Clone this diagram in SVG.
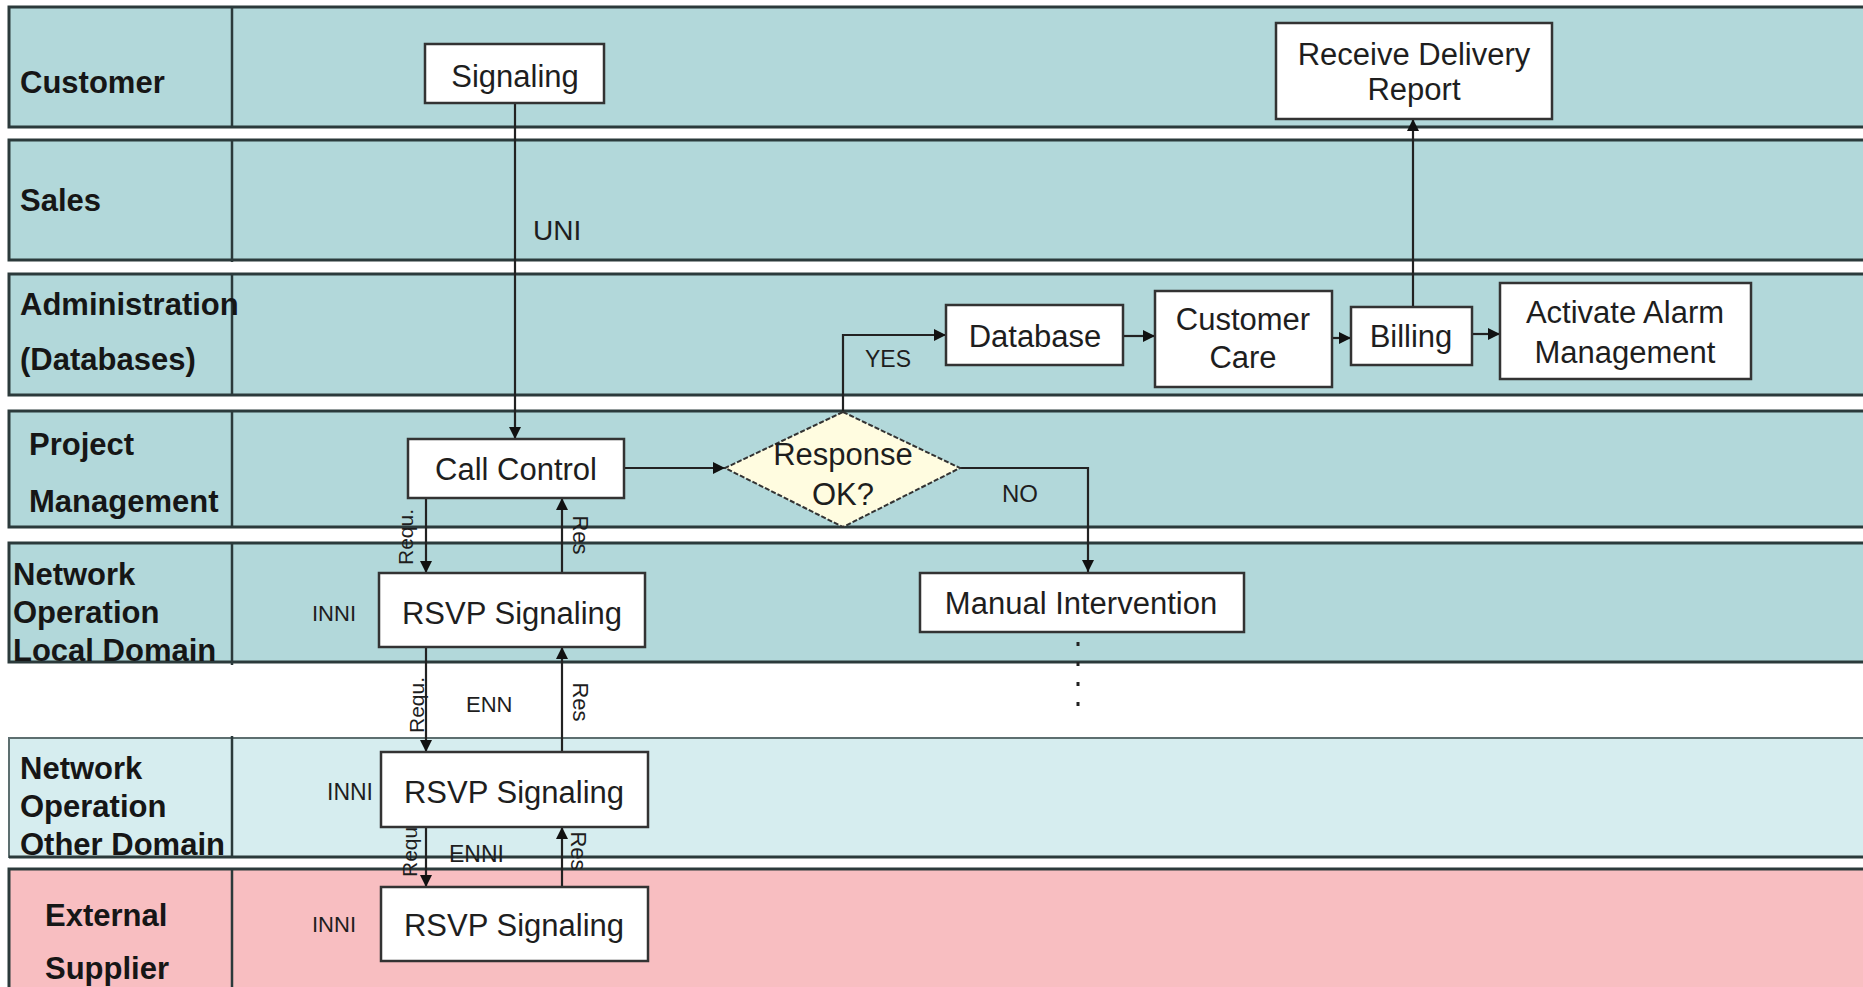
<svg xmlns="http://www.w3.org/2000/svg" width="1863" height="987" viewBox="0 0 1863 987">
<style>
.lanebg{stroke:#2b3a3b;stroke-width:3}
.teal{fill:#B2D8DA}
.light{fill:#D6EDEF}
.pink{fill:#F8BEC1}
.div{stroke:#2b3a3b;stroke-width:2.5}
.lbl{font-family:"Liberation Sans",Arial,sans-serif;font-weight:bold;font-size:31px;fill:#161616}
.box{fill:#ffffff;stroke:#333;stroke-width:2.5}
.nt{font-family:"Liberation Sans",Arial,sans-serif;font-size:31px;fill:#1e1e1e;text-anchor:middle}
.sm{font-family:"Liberation Sans",Arial,sans-serif;fill:#1e1e1e}
.ln{fill:none;stroke:#222;stroke-width:2.2}
</style>
<defs>
<marker id="ah" viewBox="0 0 10 10" refX="10" refY="5" markerWidth="12" markerHeight="12" markerUnits="userSpaceOnUse" orient="auto">
<path d="M0,0 L10,5 L0,10 z" fill="#111"/>
</marker>
</defs>
<rect x="0" y="0" width="1863" height="987" fill="#ffffff"/>
<g id="lanes">
<g id="lane-customer">
<rect class="lanebg teal" x="9" y="7" width="1870" height="120"/>
<line class="div" x1="232" y1="7" x2="232" y2="127"/>
<text class="lbl" x="20" y="93">Customer</text>
</g>
<g id="lane-sales">
<rect class="lanebg teal" x="9" y="140" width="1870" height="120"/>
<line class="div" x1="232" y1="140" x2="232" y2="262"/>
<text class="lbl" x="20" y="211">Sales</text>
</g>
<g id="lane-admin">
<rect class="lanebg teal" x="9" y="274" width="1870" height="121"/>
<line class="div" x1="232" y1="274" x2="232" y2="395"/>
<text class="lbl" x="20" y="315">Administration</text>
<text class="lbl" x="20" y="370">(Databases)</text>
</g>
<g id="lane-project">
<rect class="lanebg teal" x="9" y="411" width="1870" height="116"/>
<line class="div" x1="232" y1="411" x2="232" y2="527"/>
<text class="lbl" x="29" y="455">Project</text>
<text class="lbl" x="29" y="512">Management</text>
</g>
<g id="lane-local">
<rect class="lanebg teal" x="9" y="543" width="1870" height="119"/>
<line class="div" x1="232" y1="543" x2="232" y2="665"/>
<text class="lbl" x="13" y="585">Network</text>
<text class="lbl" x="13" y="623">Operation</text>
<text class="lbl" x="13" y="661">Local Domain</text>
</g>
<g id="lane-other">
<rect class="light" x="9" y="738" width="1870" height="119" stroke="#5d6f70" stroke-width="2"/>
<line x1="9" y1="857" x2="1870" y2="857" stroke="#2b3a3b" stroke-width="3"/>
<line class="div" x1="232" y1="736" x2="232" y2="857"/>
<text class="lbl" x="20" y="779">Network</text>
<text class="lbl" x="20" y="817">Operation</text>
<text class="lbl" x="20" y="855">Other Domain</text>
</g>
<g id="lane-external">
<rect class="lanebg pink" x="9" y="869" width="1870" height="130"/>
<line class="div" x1="232" y1="869" x2="232" y2="990"/>
<text class="lbl" x="45" y="926">External</text>
<text class="lbl" x="45" y="979">Supplier</text>
</g>
</g>

<g id="connectors">
<line class="ln" x1="515" y1="103" x2="515" y2="439" marker-end="url(#ah)"/>
<line class="ln" x1="624" y1="468" x2="725" y2="468" marker-end="url(#ah)"/>
<polyline class="ln" points="843,411 843,335 946,335" marker-end="url(#ah)"/>
<line class="ln" x1="1123" y1="336" x2="1155" y2="336" marker-end="url(#ah)"/>
<line class="ln" x1="1332" y1="338" x2="1351" y2="338" marker-end="url(#ah)"/>
<line class="ln" x1="1472" y1="334" x2="1500" y2="334" marker-end="url(#ah)"/>
<line class="ln" x1="1413" y1="307" x2="1413" y2="119" marker-end="url(#ah)"/>
<polyline class="ln" points="960,468 1088,468 1088,572" marker-end="url(#ah)"/>
<line x1="1078" y1="642" x2="1078" y2="712" stroke="#222" stroke-width="3" stroke-dasharray="4 16"/>
<line class="ln" x1="426" y1="498" x2="426" y2="573" marker-end="url(#ah)"/>
<line class="ln" x1="562" y1="573" x2="562" y2="498" marker-end="url(#ah)"/>
<line class="ln" x1="426" y1="647" x2="426" y2="752" marker-end="url(#ah)"/>
<line class="ln" x1="562" y1="752" x2="562" y2="647" marker-end="url(#ah)"/>
<line class="ln" x1="426" y1="827" x2="426" y2="887" marker-end="url(#ah)"/>
<line class="ln" x1="562" y1="887" x2="562" y2="827" marker-end="url(#ah)"/>
<text class="sm" x="533" y="240" font-size="28">UNI</text>
<text class="sm" x="865" y="367" font-size="23">YES</text>
<text class="sm" x="1002" y="502" font-size="24">NO</text>
<text class="sm" x="312" y="621" font-size="22" textLength="44" lengthAdjust="spacingAndGlyphs">INNI</text>
<text class="sm" x="466" y="712" font-size="22">ENN</text>
<text class="sm" x="327" y="800" font-size="23">INNI</text>
<text class="sm" x="449" y="862" font-size="23">ENNI</text>
<text class="sm" x="312" y="932" font-size="22" textLength="44" lengthAdjust="spacingAndGlyphs">INNI</text>
<text class="sm" font-size="21" text-anchor="middle" transform="translate(413,537) rotate(-90)">Requ.</text>
<text class="sm" font-size="21" text-anchor="middle" transform="translate(424,705) rotate(-90)">Requ.</text>
<text class="sm" font-size="21" text-anchor="middle" transform="translate(417,849) rotate(-90)">Requ.</text>
<text class="sm" font-size="22" text-anchor="middle" transform="translate(573,535) rotate(90)">Res</text>
<text class="sm" font-size="22" text-anchor="middle" transform="translate(573,702) rotate(90)">Res</text>
<text class="sm" font-size="22" text-anchor="middle" transform="translate(571,851) rotate(90)">Res</text>
</g>

<g id="node-signaling">
<rect class="box" x="425" y="44" width="179" height="59"/>
<text class="nt" x="515" y="87">Signaling</text>
</g>
<g id="node-receive">
<rect class="box" x="1276" y="23" width="276" height="96"/>
<text class="nt" x="1414" y="65">Receive Delivery</text>
<text class="nt" x="1414" y="100">Report</text>
</g>
<g id="node-database">
<rect class="box" x="946" y="305" width="177" height="60"/>
<text class="nt" x="1035" y="347">Database</text>
</g>
<g id="node-customercare">
<rect class="box" x="1155" y="291" width="177" height="96"/>
<text class="nt" x="1243" y="330">Customer</text>
<text class="nt" x="1243" y="368">Care</text>
</g>
<g id="node-billing">
<rect class="box" x="1351" y="307" width="121" height="58"/>
<text class="nt" x="1411" y="347">Billing</text>
</g>
<g id="node-activate">
<rect class="box" x="1500" y="283" width="251" height="96"/>
<text class="nt" x="1625" y="323">Activate Alarm</text>
<text class="nt" x="1625" y="363">Management</text>
</g>
<g id="node-callcontrol">
<rect class="box" x="408" y="439" width="216" height="59"/>
<text class="nt" x="516" y="480">Call Control</text>
</g>
<g id="node-response">
<polygon points="843,412 960,468 843,527 725,468" fill="#FFFCE0" stroke="#333" stroke-width="2" stroke-dasharray="5 2"/>
<text class="nt" x="843" y="465">Response</text>
<text class="nt" x="843" y="505">OK?</text>
</g>
<g id="node-manual">
<rect class="box" x="920" y="573" width="324" height="59"/>
<text class="nt" x="1081" y="614">Manual Intervention</text>
</g>
<g id="node-rsvp1">
<rect class="box" x="379" y="573" width="266" height="74"/>
<text class="nt" x="512" y="624">RSVP Signaling</text>
</g>
<g id="node-rsvp2">
<rect class="box" x="381" y="752" width="267" height="75"/>
<text class="nt" x="514" y="803">RSVP Signaling</text>
</g>
<g id="node-rsvp3">
<rect class="box" x="381" y="887" width="267" height="74"/>
<text class="nt" x="514" y="936">RSVP Signaling</text>
</g>
</svg>
